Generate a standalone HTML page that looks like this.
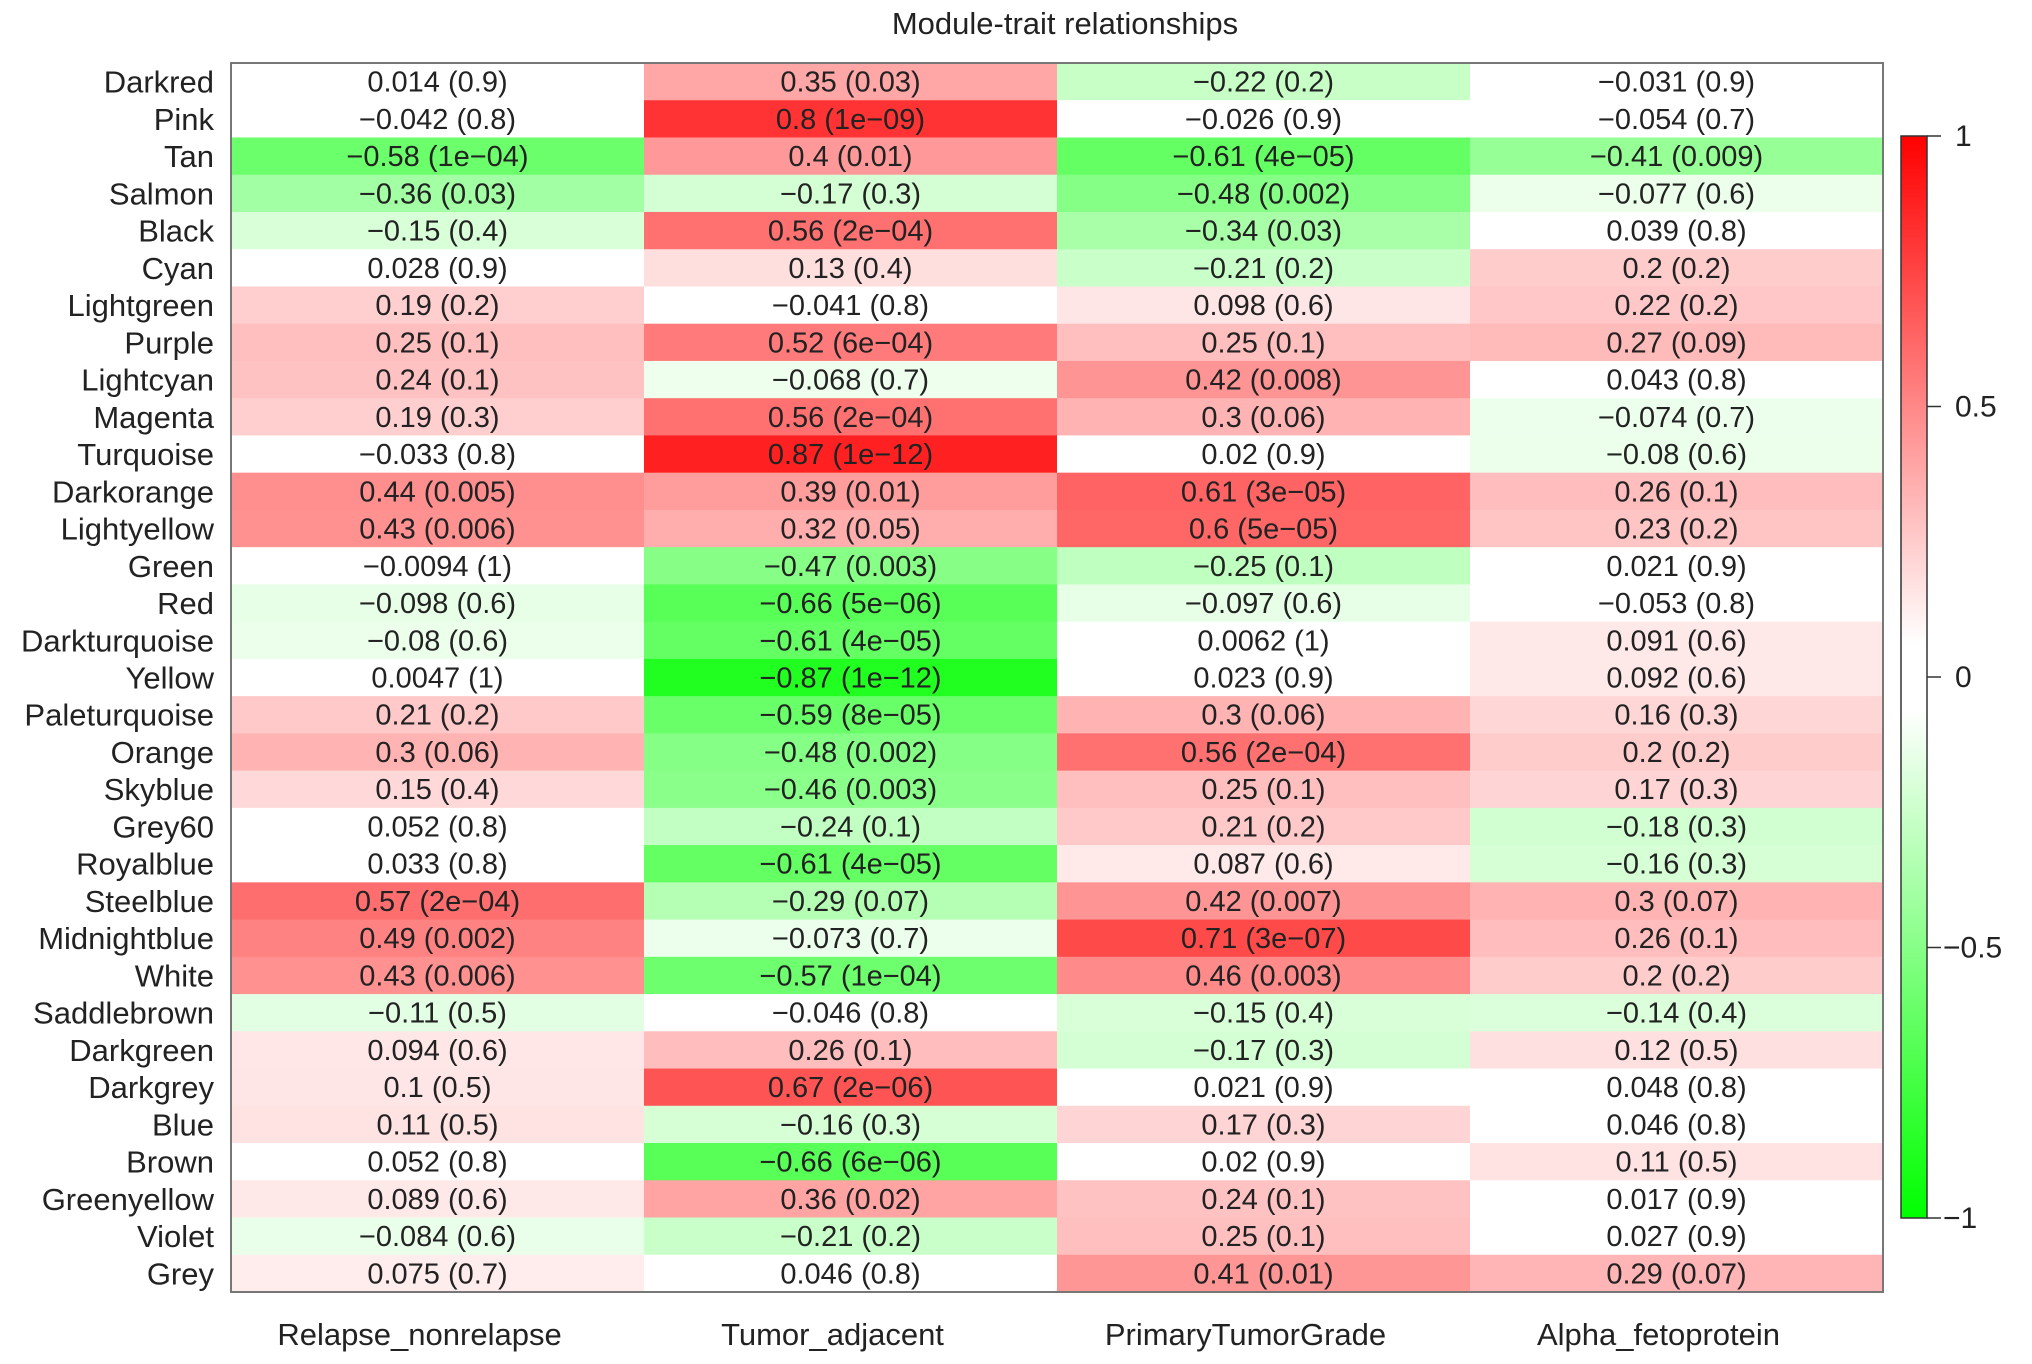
<!DOCTYPE html>
<html><head><meta charset="utf-8"><style>
html,body{margin:0;padding:0;background:#fff;}
svg{display:block;font-family:"Liberation Sans",sans-serif;}
</style></head><body>
<svg id="chart" width="2032" height="1364" viewBox="0 0 2032 1364">
<text x="1065" y="34" font-size="31" text-anchor="middle" fill="#222">Module-trait relationships</text>
<g id="cells"></g><g id="rowlabels"></g><g id="collabels"></g><g id="cbar"></g>
</svg>
<script>
const modules=["Darkred","Pink","Tan","Salmon","Black","Cyan","Lightgreen","Purple","Lightcyan","Magenta","Turquoise","Darkorange","Lightyellow","Green","Red","Darkturquoise","Yellow","Paleturquoise","Orange","Skyblue","Grey60","Royalblue","Steelblue","Midnightblue","White","Saddlebrown","Darkgreen","Darkgrey","Blue","Brown","Greenyellow","Violet","Grey"];
const traits=["Relapse_nonrelapse","Tumor_adjacent","PrimaryTumorGrade","Alpha_fetoprotein"];
const corRelapse=[0.014,-0.042,-0.58,-0.36,-0.15,0.028,0.19,0.25,0.24,0.19,-0.033,0.44,0.43,-0.0094,-0.098,-0.08,0.0047,0.21,0.3,0.15,0.052,0.033,0.57,0.49,0.43,-0.11,0.094,0.1,0.11,0.052,0.089,-0.084,0.075];
const pRelapse=["0.9","0.8","1e-04","0.03","0.4","0.9","0.2","0.1","0.1","0.3","0.8","0.005","0.006","1","0.6","0.6","1","0.2","0.06","0.4","0.8","0.8","2e-04","0.002","0.006","0.5","0.6","0.5","0.5","0.8","0.6","0.6","0.7"];
const corTumor=[0.35,0.8,0.4,-0.17,0.56,0.13,-0.041,0.52,-0.068,0.56,0.87,0.39,0.32,-0.47,-0.66,-0.61,-0.87,-0.59,-0.48,-0.46,-0.24,-0.61,-0.29,-0.073,-0.57,-0.046,0.26,0.67,-0.16,-0.66,0.36,-0.21,0.046];
const pTumor=["0.03","1e-09","0.01","0.3","2e-04","0.4","0.8","6e-04","0.7","2e-04","1e-12","0.01","0.05","0.003","5e-06","4e-05","1e-12","8e-05","0.002","0.003","0.1","4e-05","0.07","0.7","1e-04","0.8","0.1","2e-06","0.3","6e-06","0.02","0.2","0.8"];
const corGrade=[-0.22,-0.026,-0.61,-0.48,-0.34,-0.21,0.098,0.25,0.42,0.3,0.02,0.61,0.6,-0.25,-0.097,0.0062,0.023,0.3,0.56,0.25,0.21,0.087,0.42,0.71,0.46,-0.15,-0.17,0.021,0.17,0.02,0.24,0.25,0.41];
const pGrade=["0.2","0.9","4e-05","0.002","0.03","0.2","0.6","0.1","0.008","0.06","0.9","3e-05","5e-05","0.1","0.6","1","0.9","0.06","2e-04","0.1","0.2","0.6","0.007","3e-07","0.003","0.4","0.3","0.9","0.3","0.9","0.1","0.1","0.01"];
const corAfp=[-0.031,-0.054,-0.41,-0.077,0.039,0.2,0.22,0.27,0.043,-0.074,-0.08,0.26,0.23,0.021,-0.053,0.091,0.092,0.16,0.2,0.17,-0.18,-0.16,0.3,0.26,0.2,-0.14,0.12,0.048,0.046,0.11,0.017,0.027,0.29];
const pAfp=["0.9","0.7","0.009","0.6","0.8","0.2","0.2","0.09","0.8","0.7","0.6","0.1","0.2","0.9","0.8","0.6","0.6","0.3","0.2","0.3","0.3","0.3","0.07","0.1","0.2","0.4","0.5","0.8","0.8","0.5","0.9","0.9","0.07"];
const cbTicks=[1,0.5,0,-0.5,-1];
const cbLabels=["1","0.5","0","\u22120.5","\u22121"];

const NS="http://www.w3.org/2000/svg";
const L=231,R=1883,T=63,B=1292;
const cw=(R-L)/traits.length, rh=(B-T)/modules.length;
const cols=[[corRelapse,pRelapse],[corTumor,pTumor],[corGrade,pGrade],[corAfp,pAfp]];
function color(v){v=Math.max(-1,Math.min(1,v));
 if(Math.abs(v)<0.06)return '#fff';
 if(v>=0){const c=Math.round(255*(1-v));return `rgb(255,${c},${c})`;}
 const c=Math.round(255*(1+v));return `rgb(${c},255,${c})`;}
function fmt(v){return (v<0?"\u2212":"")+String(Math.abs(v));}
function mk(tag,attrs,parent){const e=document.createElementNS(NS,tag);for(const k in attrs)e.setAttribute(k,attrs[k]);parent.appendChild(e);return e;}
const gc=document.getElementById('cells'),gr=document.getElementById('rowlabels'),gl=document.getElementById('collabels'),gb=document.getElementById('cbar');
const xS=j=>L+j*cw, yS=i=>T+i*rh;
cols.forEach((cp,j)=>{
 modules.forEach((m,i)=>{
  const r=mk('rect',{x:xS(j),y:yS(i),width:cw+0.6,height:rh+0.6,fill:color(cp[0][i])},gc);
  
  
  const t=mk('text',{x:xS(j)+cw/2,y:yS(i)+rh/2+10,'font-size':29,'text-anchor':'middle',fill:'#222'},gc);
  t.textContent=fmt(cp[0][i])+" ("+cp[1][i].replace('-','\u2212')+")";
  
  
 });
 const lt=mk('text',{x:xS(j)+cw/2-18,y:1345,'font-size':31,'text-anchor':'middle',fill:'#222'},gl);
 lt.textContent=traits[j];
 
 
});
modules.forEach((m,i)=>{
 const t=mk('text',{x:214,y:yS(i)+rh/2+11,'font-size':31,'text-anchor':'end',fill:'#222'},gr);
 t.textContent=m;
 
 
});
const fr=mk('rect',{x:L,y:T,width:R-L,height:B-T,fill:'none',stroke:'#777','stroke-width':2},gc);


const cbL=1901,cbR=1927,cbT=136,cbB=1218;
const cy=v=>cbT+(1-v)/2*(cbB-cbT);
const defs=mk('defs',{},gb);
const lg=mk('linearGradient',{id:'cg',x1:0,y1:0,x2:0,y2:1},defs);
mk('stop',{offset:'0','stop-color':'rgb(255,0,0)'},lg);
mk('stop',{offset:'0.47','stop-color':'rgb(255,255,255)'},lg);
mk('stop',{offset:'0.53','stop-color':'rgb(255,255,255)'},lg);
mk('stop',{offset:'1','stop-color':'rgb(0,255,0)'},lg);
const cb=mk('rect',{x:cbL,y:cbT,width:cbR-cbL,height:cbB-cbT,fill:'url(#cg)',stroke:'#333','stroke-width':1.5},gb);


cbTicks.forEach((v,k)=>{
 mk('line',{x1:cbR,x2:cbR+14,y1:cy(v),y2:cy(v),stroke:'#333','stroke-width':1.5},gb);
 const t=mk('text',{x:cbR+(v<0?16:28),y:cy(v)+10,'font-size':30,fill:'#222'},gb);
 t.textContent=cbLabels[k];
 
 
});
</script>
</body></html>
